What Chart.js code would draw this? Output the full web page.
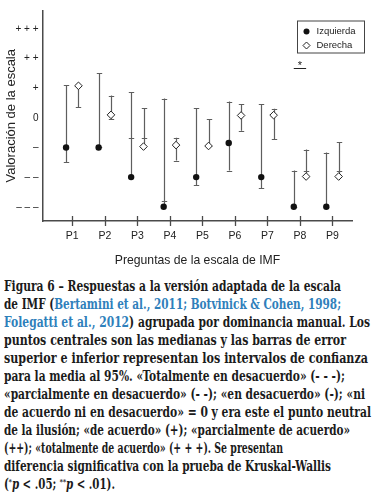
<!DOCTYPE html>
<html><head><meta charset="utf-8">
<script src="https://cdn.jsdelivr.net/npm/chart.js@4.4.1/dist/chart.umd.min.js"></script>
<style>
html,body{margin:0;padding:0;background:#fff;width:373px;height:494px;overflow:hidden}
#wrap{position:absolute;left:0;top:0;width:373px;height:270px}
#cap{position:absolute;left:4px;top:277px;font-family:"DejaVu Serif",serif;font-weight:bold;font-size:14px;line-height:18px;color:#1b1b1b;white-space:nowrap}
#cap .l{display:block;height:18px}
#cap .l span.t{display:inline-block;transform-origin:0 50%}
.c{color:#2f80bb}
sup{font-size:8px;vertical-align:5px;line-height:0}
</style></head><body>
<div id="wrap"><canvas id="c" width="373" height="270"></canvas></div>
<div id="cap">
<div class="l" data-w="337"><span class="t">Figura 6 – Respuestas a la versión adaptada de la escala</span></div>
<div class="l" data-w="337"><span class="t">de IMF (<span class="c">Bertamini et al., 2011; Botvinick &amp; Cohen, 1998;</span></span></div>
<div class="l" data-w="366"><span class="t"><span class="c">Folegatti et al., 2012</span>) agrupada por dominancia manual. Los</span></div>
<div class="l" data-w="342"><span class="t">puntos centrales son las medianas y las barras de error</span></div>
<div class="l" data-w="364"><span class="t">superior e inferior representan los intervalos de confianza</span></div>
<div class="l" data-w="341"><span class="t">para la media al 95%. «Totalmente en desacuerdo» (- - -);</span></div>
<div class="l" data-w="361"><span class="t">«parcialmente en desacuerdo» (- -); «en desacuerdo» (-); «ni</span></div>
<div class="l" data-w="367"><span class="t">de acuerdo ni en desacuerdo» = 0 y era este el punto neutral</span></div>
<div class="l" data-w="346"><span class="t">de la ilusión; «de acuerdo» (+); «parcialmente de acuerdo»</span></div>
<div class="l" data-w="279"><span class="t">(++); «totalmente de acuerdo» (+ + +). Se presentan</span></div>
<div class="l" data-w="327"><span class="t">diferencia significativa con la prueba de Kruskal-Wallis</span></div>
<div class="l" data-w="111"><span class="t">(<sup>*</sup><i>p</i> &lt; .05; <sup>**</sup><i>p</i> &lt; .01).</span></div>
</div>
<script>
const categories = ['P1','P2','P3','P4','P5','P6','P7','P8','P9'];
const seriesNames = ['Izquierda','Derecha'];
const yTickValues = [-3,-2,-1,0,1,2,3];
const yTickLabels = ['– – –','– –','–','0','+','+ +','+ + +'];

const izqMedian = [-1, -1, -2, -3, -2, -0.85, -2, -3, -3];
const izqUpper  = [1.1, 1.5, 0.86, 0.65, 0.33, 0.55, 0.45, -1.78, -1.17];
const izqLower  = [-1.5, -1, -0.69, -2.82, -2.28, -1.78, -2.37, -3, -3];

const derMedian = [1.08, 0.1, -0.97, -0.92, -0.95, 0.08, 0.09, -1.98, -1.98];
const derUpper  = [1.08, 0.75, 0.33, -0.67, -0.05, 0.45, 0.31, -1.07, -0.83];
const derLower  = [0.36, -0.05, -0.69, -1.44, -0.95, -0.44, -0.73, -1.78, -1.78];

const sigMarks  = ['', '', '', '', '', '', '', '*', ''];
const sigLevel  = 1.69;

const SHIFT = 0.19;
const AXIS = '#4a4a4a';
const SANS = '"Liberation Sans", Arial, sans-serif';

const errorBars = {
  id: 'errorBars',
  beforeDatasetsDraw(chart) {
    const {ctx, scales: {x, y}} = chart;
    ctx.save();
    ctx.strokeStyle = '#5e5e5e';
    ctx.lineWidth = 1.2;
    chart.data.datasets.forEach(ds => {
      ds.data.forEach((p, i) => {
        const lo = ds.lower[i], hi = ds.upper[i];
        const px = Math.round(x.getPixelForValue(p.x)) + 0.5;
        const top = y.getPixelForValue(Math.max(lo, hi, p.y));
        const bot = y.getPixelForValue(Math.min(lo, hi, p.y));
        ctx.beginPath();
        ctx.moveTo(px, top); ctx.lineTo(px, bot);
        [lo, hi].forEach(v => {
          const py = Math.round(y.getPixelForValue(v)) + 0.5;
          ctx.moveTo(px - 2.7, py); ctx.lineTo(px + 2.7, py);
        });
        ctx.stroke();
      });
    });
    ctx.restore();
  },
  afterDraw(chart) {
    const {ctx, chartArea: ca, scales: {x, y}} = chart;
    ctx.save();
    ctx.strokeStyle = AXIS; ctx.lineWidth = 1.3;
    categories.forEach((c, i) => {
      const px = Math.round(x.getPixelForValue(i + 1)) + 0.5;
      ctx.beginPath(); ctx.moveTo(px, ca.bottom - 5); ctx.lineTo(px, ca.bottom + 5); ctx.stroke();
    });
    sigMarks.forEach((m, i) => {
      if (!m) return;
      const x1 = x.getPixelForValue(i + 1 - SHIFT), x2 = x.getPixelForValue(i + 1 + SHIFT);
      const py = Math.round(y.getPixelForValue(sigLevel)) + 0.5;
      ctx.strokeStyle = '#222'; ctx.lineWidth = 1;
      ctx.beginPath(); ctx.moveTo(x1, py); ctx.lineTo(x2, py); ctx.stroke();
      ctx.fillStyle = '#222'; ctx.font = '11px ' + SANS;
      ctx.textAlign = 'center'; ctx.textBaseline = 'middle';
      ctx.fillText(m, (x1 + x2) / 2, py - 2.5);
    });
    const bx = ca.right - 54.5, by = ca.top + 10.5, bw = 67, bh = 32;
    ctx.strokeStyle = '#444'; ctx.lineWidth = 1;
    ctx.strokeRect(bx, by, bw, bh);
    ctx.font = '9.5px ' + SANS;
    ctx.textAlign = 'left'; ctx.textBaseline = 'middle';
    chart.data.datasets.forEach((ds, k) => {
      const cy = by + 10.5 + k * 14;
      const cx = bx + 9;
      ctx.beginPath();
      if (ds.pointStyle === 'circle') {
        ctx.arc(cx, cy, 3, 0, Math.PI * 2);
        ctx.fillStyle = ds.backgroundColor; ctx.fill();
      } else {
        ctx.moveTo(cx, cy - 3.5); ctx.lineTo(cx + 3.5, cy); ctx.lineTo(cx, cy + 3.5); ctx.lineTo(cx - 3.5, cy); ctx.closePath();
        ctx.fillStyle = '#fff'; ctx.fill(); ctx.strokeStyle = '#222'; ctx.stroke();
      }
      ctx.fillStyle = '#222';
      ctx.fillText(ds.label, cx + 10, cy);
    });
    ctx.restore();
  }
};

new Chart(document.getElementById('c'), {
  type: 'scatter',
  data: {
    datasets: [
      {
        label: seriesNames[0],
        data: categories.map((c, i) => ({x: i + 1 - SHIFT, y: izqMedian[i]})),
        lower: izqLower, upper: izqUpper,
        pointStyle: 'circle', pointRadius: 3.2, borderWidth: 0,
        backgroundColor: '#111', borderColor: '#111'
      },
      {
        label: seriesNames[1],
        data: categories.map((c, i) => ({x: i + 1 + SHIFT, y: derMedian[i]})),
        lower: derLower, upper: derUpper,
        pointStyle: 'rectRot', pointRadius: 3.8, borderWidth: 1,
        backgroundColor: '#fff', borderColor: '#222'
      }
    ]
  },
  options: {
    responsive: false, animation: false, devicePixelRatio: 1,
    clip: false,
    layout: {padding: {top: 8, right: 21, left: 0, bottom: 0}},
    plugins: {legend: {display: false}, tooltip: {enabled: false}},
    scales: {
      x: {
        type: 'linear', min: 0.1, max: 9.6,
        afterBuildTicks: s => { s.ticks = categories.map((c, i) => ({value: i + 1})); },
        afterFit: s => { s.height = 49; },
        grid: {display: false, drawTicks: false},
        border: {display: true, color: AXIS, width: 1.5},
        ticks: {
          autoSkip: false, maxRotation: 0, padding: 9, color: '#222',
          font: {family: SANS, size: 10.5},
          callback: v => categories[Math.round(v) - 1]
        },
        title: {display: true, text: 'Preguntas de la escala de IMF', color: '#222',
          font: {family: SANS, size: 12.2}, padding: {top: 4, bottom: 2}}
      },
      y: {
        type: 'linear', min: -3.48, max: 3.62,
        afterBuildTicks: s => { s.ticks = yTickValues.map(v => ({value: v})); },
        afterFit: s => { s.width = 43; },
        grid: {display: false, drawTicks: false},
        border: {display: true, color: AXIS, width: 1.5},
        ticks: {
          padding: 4.5, color: '#222', font: {family: SANS, size: 10},
          callback: v => yTickLabels[yTickValues.indexOf(Math.round(v))]
        },
        title: {display: true, text: 'Valoración de la escala', color: '#222',
          font: {family: SANS, size: 13}, padding: {top: 4, bottom: 0}}
      }
    }
  },
  plugins: [errorBars]
});

// fit each caption line to the width it has in the printed column
document.querySelectorAll('#cap .l').forEach(l => {
  const s = l.querySelector('span.t');
  const w = s.getBoundingClientRect().width;
  const target = parseFloat(l.dataset.w);
  if (w > 0) s.style.transform = 'scaleX(' + (target / w) + ')';
});
</script>
</body></html>
